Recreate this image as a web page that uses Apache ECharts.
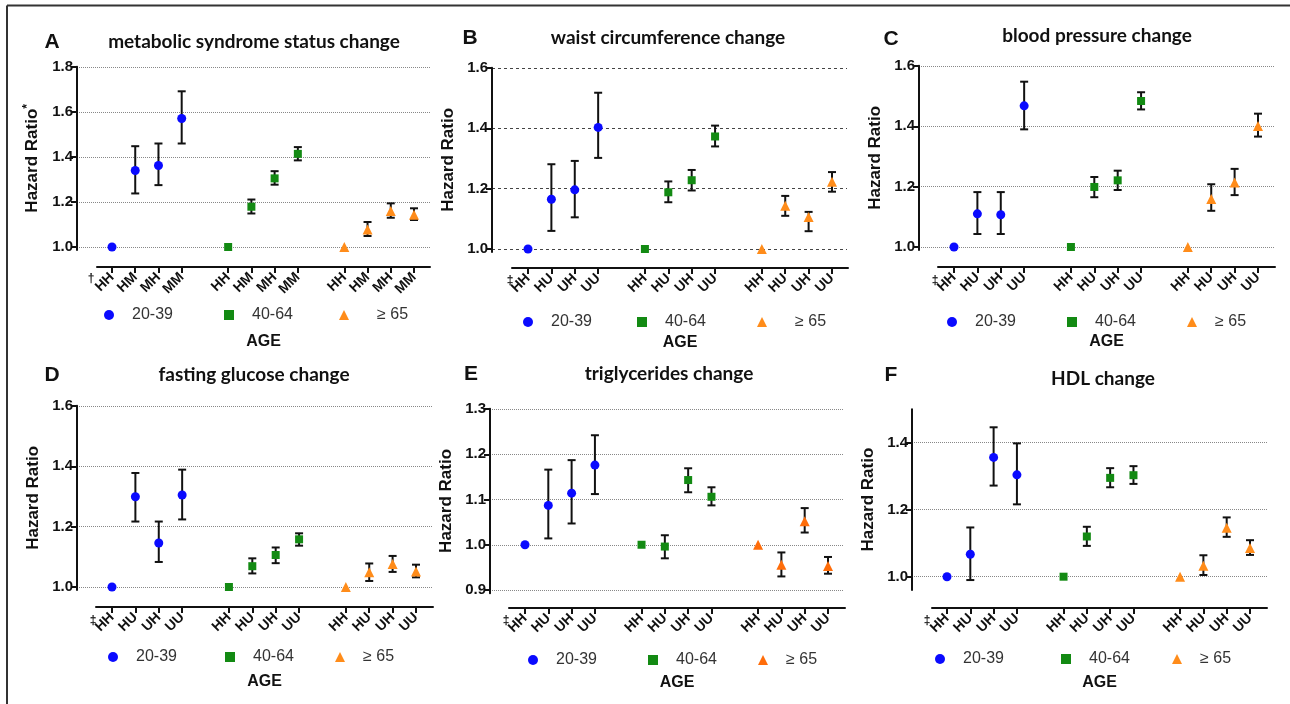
<!DOCTYPE html>
<html><head><meta charset="utf-8">
<script src="https://cdn.jsdelivr.net/npm/echarts@6/dist/echarts.min.js"></script>
<style>html,body{margin:0;padding:0;background:#fff}#c{width:1290px;height:704px}</style>
</head><body><div id="c"></div>
<script>
// ---------- data ----------
const ageGroups = ['20-39', '40-64', '\u2265 65'];
const catsMS = ['HH', 'HM', 'MH', 'MM'];
const catsHU = ['HH', 'HU', 'UH', 'UU'];
const panelLetters = ['A', 'B', 'C', 'D', 'E', 'F'];
const panelTitles = ['metabolic syndrome status change', 'waist circumference change', 'blood pressure change',
  'fasting glucose change', 'triglycerides change', 'HDL change'];
const refMarks = ['\u2020', '\u2021', '\u2021', '\u2021', '\u2021', '\u2021'];
// y axis line extent (the axis line runs a little past the lowest tick)
const yMin = [0.987, 0.99, 0.99, 0.99, 0.893, 0.96];
const yMax = [1.801, 1.601, 1.601, 1.601, 1.3007, 1.5];
const yTicksA = [1.0, 1.2, 1.4, 1.6, 1.8];
const yTicksB = [1.0, 1.2, 1.4, 1.6];
const yTicksC = [1.0, 1.2, 1.4, 1.6];
const yTicksD = [1.0, 1.2, 1.4, 1.6];
const yTicksE = [0.9, 1.0, 1.1, 1.2, 1.3];
const yTicksF = [1.0, 1.2, 1.4];

// hazard ratios [20-39, 40-64, >=65] x [HH, ..]
const hrA = [[1.00, 1.340, 1.362, 1.571], [1.00, 1.179, 1.305, 1.414], [1.00, 1.078, 1.160, 1.143]];
const loA = [[null, 1.238, 1.275, 1.460], [null, 1.149, 1.277, 1.385], [null, 1.049, 1.130, 1.120]];
const hiA = [[null, 1.448, 1.460, 1.692], [null, 1.211, 1.337, 1.444], [null, 1.111, 1.194, 1.172]];

const hrB = [[1.00, 1.165, 1.196, 1.403], [1.00, 1.188, 1.228, 1.373], [1.00, 1.143, 1.106, 1.223]];
const loB = [[null, 1.060, 1.105, 1.302], [null, 1.155, 1.194, 1.340], [null, 1.110, 1.059, 1.190]];
const hiB = [[null, 1.281, 1.292, 1.518], [null, 1.224, 1.262, 1.409], [null, 1.176, 1.123, 1.255]];

const hrC = [[1.00, 1.110, 1.107, 1.468], [1.00, 1.199, 1.221, 1.484], [1.00, 1.159, 1.214, 1.401]];
const loC = [[null, 1.043, 1.043, 1.390], [null, 1.165, 1.189, 1.456], [null, 1.120, 1.172, 1.366]];
const hiC = [[null, 1.182, 1.182, 1.548], [null, 1.232, 1.253, 1.513], [null, 1.208, 1.259, 1.442]];

const hrD = [[1.00, 1.299, 1.146, 1.305], [1.00, 1.069, 1.106, 1.158], [1.00, 1.049, 1.076, 1.051]];
const loD = [[null, 1.217, 1.083, 1.224], [null, 1.045, 1.079, 1.137], [null, 1.020, 1.050, 1.032]];
const hiD = [[null, 1.378, 1.217, 1.389], [null, 1.095, 1.131, 1.178], [null, 1.078, 1.103, 1.074]];

const hrE = [[1.00, 1.087, 1.114, 1.176], [1.00, 0.996, 1.143, 1.106], [1.00, 0.956, 1.052, 0.953]];
const loE = [[null, 1.014, 1.047, 1.112], [null, 0.970, 1.116, 1.087], [null, 0.930, 1.027, 0.936]];
const hiE = [[null, 1.166, 1.187, 1.242], [null, 1.021, 1.169, 1.127], [null, 0.983, 1.081, 0.973]];

const hrF = [[1.00, 1.067, 1.356, 1.304], [1.00, 1.120, 1.295, 1.303], [1.00, 1.033, 1.146, 1.086]];
const loF = [[null, 0.990, 1.272, 1.216], [null, 1.092, 1.267, 1.277], [null, 1.005, 1.119, 1.065]];
const hiF = [[null, 1.147, 1.446, 1.398], [null, 1.149, 1.324, 1.330], [null, 1.064, 1.177, 1.109]];

const HR = [hrA, hrB, hrC, hrD, hrE, hrF];
const LO = [loA, loB, loC, loD, loE, loF];
const HI = [hiA, hiB, hiC, hiD, hiE, hiF];
const YT = [yTicksA, yTicksB, yTicksC, yTicksD, yTicksE, yTicksF];
const CATS = [catsMS, catsHU, catsHU, catsHU, catsHU, catsHU];

// ---------- layout / style ----------
// ytop / ybot = pixel rows of the highest / lowest labelled tick
const L = [
  {yx: 77, ytop: 67, ybot: 247, gr: 430, xl: 97, xr: 430, xy: 267, first: 112, last: 414, legY: 316, leg: [109, 229, 344], pad: [13, 13, 23], title: [254, 44], letter: [52, 44], mark: [91, 279], dash: 'dotted'},
  {yx: 492, ytop: 68, ybot: 249, gr: 847, xl: 512, xr: 848, xy: 268, first: 528, last: 832, legY: 323, leg: [528, 642, 762], pad: [13, 13, 23], title: [668, 40], letter: [470, 40], mark: [510, 281], dash: [3, 3]},
  {yx: 919, ytop: 66, ybot: 247, gr: 1275, xl: 938, xr: 1275, xy: 267, first: 954, last: 1258, legY: 323, leg: [952, 1072, 1192], pad: [13, 13, 13], title: [1097, 38], letter: [891, 41], mark: [935, 281], dash: 'dotted'},
  {yx: 77, ytop: 406, ybot: 587, gr: 433, xl: 96, xr: 433, xy: 607, first: 112, last: 416, legY: 658, leg: [113, 230, 340], pad: [13, 13, 13], title: [254, 377], letter: [52, 377], mark: [93, 621], dash: 'dotted'},
  {yx: 490, ytop: 409, ybot: 590, gr: 843, xl: 509, xr: 845, xy: 608, first: 525, last: 828, legY: 661, leg: [533, 653, 763], pad: [13, 13, 13], title: [669, 376], letter: [471, 376], mark: [506, 621], dash: 'dotted'},
  {yx: 912, ytop: 442.7, ybot: 576.7, gr: 1267, xl: 932, xr: 1267, xy: 608, first: 947, last: 1250, legY: 660, leg: [940, 1066, 1177], pad: [13, 13, 13], title: [1103, 381], letter: [891, 377], mark: [927, 621], dash: 'dotted'}
];
const colors = ['#0a0aff', '#138a13', '#ff8c1a'];
const colorsE = ['#0a0aff', '#138a13', '#ff6d0a'];
const symbols = ['circle', 'rect', 'triangle'];
const symSizes = [9, 8, 10];
const FONT = 'Liberation Sans, Arial, sans-serif';
const catPos = [0, 1, 2, 3, 5, 6, 7, 8, 10, 11, 12, 13];

const option = {
  animation: false,
  backgroundColor: '#fff',
  title: [], grid: [], xAxis: [], yAxis: [], series: [], legend: [],
  graphic: [
    {type: 'line', shape: {x1: 7, y1: 5.5, x2: 1290, y2: 5.5}, style: {stroke: '#333', lineWidth: 2}},
    {type: 'line', shape: {x1: 7, y1: 5.5, x2: 7, y2: 704}, style: {stroke: '#333', lineWidth: 2}}
  ]
};

for (let p = 0; p < 6; p++) {
  const g = L[p];
  const step = (g.last - g.first) / 13;
  const cats = CATS[p];
  const ticks = YT[p];
  const cols = p === 4 ? colorsE : colors;
  const tMin = ticks[0], tMax = ticks[ticks.length - 1];
  const yScale = (g.ybot - g.ytop) / (tMax - tMin);
  const gTop = g.ytop - (yMax[p] - tMax) * yScale;
  const gBot = g.ybot + (tMin - yMin[p]) * yScale;
  const xMainMin = (g.yx - g.first) / step;

  option.title.push({text: panelTitles[p], left: g.title[0], top: g.title[1] - 12, textAlign: 'center', padding: 0,
    textStyle: {fontFamily: 'Lato', fontWeight: 'bold', fontSize: 19, color: '#111'}});
  option.title.push({text: panelLetters[p], left: g.letter[0], top: g.letter[1] - 12, textAlign: 'center', padding: 0,
    textStyle: {fontFamily: FONT, fontWeight: 'bold', fontSize: 21, color: '#111'}});
  option.graphic.push({type: 'text', x: g.mark[0], y: g.mark[1],
    style: {text: refMarks[p], font: 'bold 12px Liberation Sans', fill: '#111', align: 'center', verticalAlign: 'middle', textAlign: 'center', textVerticalAlign: 'middle'}});

  // main grid
  option.grid.push({left: g.yx, top: gTop, width: g.gr - g.yx, height: gBot - gTop});
  // x axis line grid
  option.grid.push({left: g.xl, top: g.xy - 20, width: g.xr - g.xl, height: 20});

  option.xAxis.push({type: 'value', gridIndex: 2 * p, show: false,
    min: xMainMin, max: 13 + (g.gr - g.last) / step});
  option.xAxis.push({type: 'value', gridIndex: 2 * p + 1, position: 'bottom',
    min: (g.xl - g.first) / step, max: 13 + (g.xr - g.last) / step,
    name: 'AGE', nameLocation: 'middle', nameGap: 67,
    nameTextStyle: {fontFamily: FONT, fontWeight: 'bold', fontSize: 16, color: '#111'},
    axisLine: {show: true, onZero: false, lineStyle: {color: '#111', width: 2}},
    axisTick: {show: true, customValues: catPos, length: 6, inside: false, lineStyle: {color: '#111', width: 2}},
    axisLabel: {show: true, customValues: catPos, rotate: 45, margin: 8,
      formatter: v => cats[Math.round(v) % 5],
      fontFamily: FONT, fontWeight: 'bold', fontSize: 14, color: '#111'},
    splitLine: {show: false}});

  const yName = p === 0 ? '{n|Hazard Ratio}{s|*}' : 'Hazard Ratio';
  option.yAxis.push({type: 'value', gridIndex: 2 * p, position: 'left', min: yMin[p], max: yMax[p],
    name: yName, nameLocation: 'middle', nameGap: 35,
    nameTextStyle: {fontFamily: FONT, fontWeight: 'bold', fontSize: 17, color: '#111',
      rich: {n: {fontFamily: FONT, fontWeight: 'bold', fontSize: 17, color: '#111'},
             s: {fontFamily: FONT, fontWeight: 'bold', fontSize: 12, color: '#111', padding: [0, 0, 8, 0]}}},
    axisLine: {show: true, onZero: false, lineStyle: {color: '#111', width: 2}},
    axisTick: {show: true, customValues: ticks, length: 6, inside: false, lineStyle: {color: '#111', width: 2}},
    axisLabel: {show: true, customValues: ticks, margin: 4, formatter: v => v.toFixed(1),
      fontFamily: FONT, fontWeight: 'bold', fontSize: 15, color: '#111'},
    splitLine: {show: true, lineStyle: {color: p === 1 ? '#444' : '#888', width: 1, type: g.dash}}});
  option.yAxis.push({type: 'value', gridIndex: 2 * p + 1, show: false});

  // y axis spine, drawn along the axis's own min..max at the grid's left edge (top layer)
  option.series.push({type: 'line', xAxisIndex: 2 * p, yAxisIndex: 2 * p, zlevel: 1, z: 3, silent: true, clip: false,
    symbol: 'none', lineStyle: {color: '#111', width: 2}, tooltip: {show: false},
    data: [[xMainMin, yMin[p]], [xMainMin, yMax[p]]]});

  // error bars
  const ebRows = [];
  for (let a = 0; a < 3; a++) {
    for (let c = 0; c < 4; c++) {
      if (LO[p][a][c] != null) ebRows.push([a * 5 + c, LO[p][a][c], HI[p][a][c]]);
    }
  }
  option.series.push({type: 'custom', xAxisIndex: 2 * p, yAxisIndex: 2 * p, z: 2, silent: true,
    data: ebRows, encode: {x: 0, y: [1, 2]},
    renderItem: function (params, api) {
      const x = api.value(0), lo = api.value(1), hi = api.value(2);
      const t = api.coord([x, hi]), b = api.coord([x, lo]);
      const w = 4, st = {stroke: '#111', lineWidth: 2};
      return {type: 'group', children: [
        {type: 'line', shape: {x1: t[0], y1: t[1], x2: b[0], y2: b[1]}, style: st},
        {type: 'line', shape: {x1: t[0] - w, y1: t[1], x2: t[0] + w, y2: t[1]}, style: st},
        {type: 'line', shape: {x1: b[0] - w, y1: b[1], x2: b[0] + w, y2: b[1]}, style: st}
      ]};
    }});

  for (let a = 0; a < 3; a++) {
    option.series.push({type: 'scatter', name: ageGroups[a], xAxisIndex: 2 * p, yAxisIndex: 2 * p, z: 5,
      symbol: symbols[a], symbolSize: symSizes[a], itemStyle: {color: cols[a], opacity: 1},
      data: HR[p][a].map((v, c) => [a * 5 + c, v])});
    option.legend.push({left: g.leg[a] - 5, top: g.legY - 9, itemWidth: 10, itemHeight: 10, padding: 0,
      selectedMode: false,
      data: [{name: ageGroups[a], icon: symbols[a], itemStyle: {color: cols[a]}}],
      textStyle: {fontFamily: FONT, fontSize: 16, color: '#333', padding: [0, 0, 0, g.pad[a]]}});
  }
}

const chart = echarts.init(document.getElementById('c'), null, {renderer: 'canvas'});
chart.setOption(option);
</script>
</body></html>
